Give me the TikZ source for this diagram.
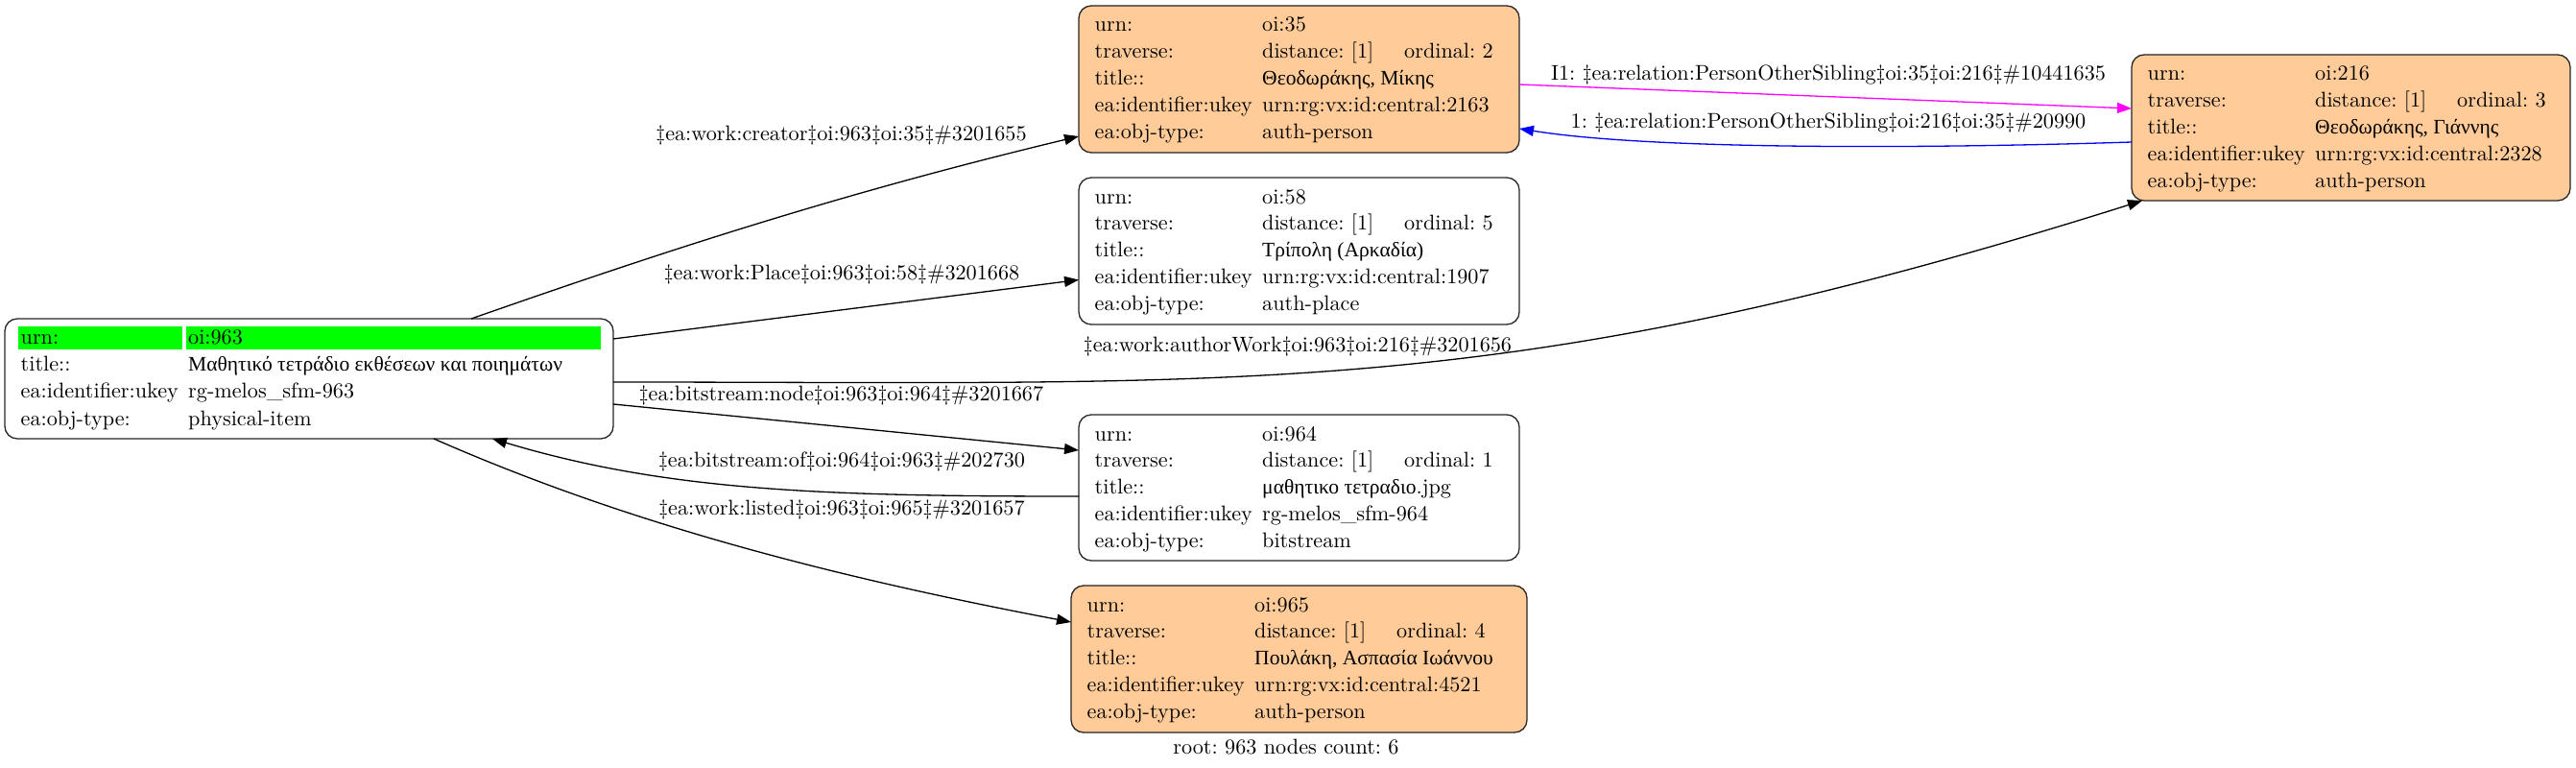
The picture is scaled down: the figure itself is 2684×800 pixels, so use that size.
\documentclass[tikz,border=0pt]{standalone}
\usepackage{fontspec}
\setmainfont{lmroman10-regular.otf}
\newfontfamily\grfont{Liberation Serif}[Scale=0.97]
\usetikzlibrary{arrows.meta,calc}
\definecolor{peach}{RGB}{255,204,153}
\definecolor{gv}{RGB}{0,255,0}
\definecolor{mag}{RGB}{255,0,255}
\definecolor{blu}{RGB}{0,0,255}
\newcommand\gr[1]{{\grfont #1}}
\newcommand\fs{\fontsize{22.2}{26}\selectfont\frenchspacing}
\tikzset{
  box/.style={draw=black!85, line width=1.3pt, rounded corners=13pt, anchor=north west, inner sep=0pt, outer sep=0pt},
  txt/.style={anchor=base west, inner sep=0pt, font=\fs},
  elbl/.style={anchor=base, inner sep=0pt, font=\fs},
  conn/.style={line width=1.3pt, -{Triangle[length=15pt,width=11pt]}},
}
\newcommand\gvbox[6]{\node[box, fill=#6, minimum width=#4pt, minimum height=#5pt] (#1) at (#2,#3) {};}
\newcommand\fiverows[8]{%
  \node[txt] (#1-a1) at ($(#2,#3)+(16.5,27)$) {urn:};
  \node[txt] (#1-b1) at ($(#2,#3)+(191,27)$) {#4};
  \node[txt] (#1-a2) at ($(#2,#3)+(16.5,54.75)$) {traverse:};
  \node[txt] (#1-b2) at ($(#2,#3)+(191,54.75)$) {distance: [1]};
  \node[txt] (#1-c2) at ($(#2,#3)+(339,54.75)$) {ordinal: #5};
  \node[txt] (#1-a3) at ($(#2,#3)+(16.5,82.5)$) {title::};
  \node[txt] (#1-b3) at ($(#2,#3)+(191,82.5)$) {#6};
  \node[txt] (#1-a4) at ($(#2,#3)+(16.5,110.25)$) {ea:identifier:ukey};
  \node[txt] (#1-b4) at ($(#2,#3)+(191,110.25)$) {#7};
  \node[txt] (#1-a5) at ($(#2,#3)+(16.5,138)$) {ea:obj-type:};
  \node[txt] (#1-b5) at ($(#2,#3)+(191,138)$) {#8};
}
\begin{document}
\begin{tikzpicture}[x=1pt, y=-1pt]
\useasboundingbox[fill=white] (0,0) rectangle (2684,800);

% root node 963
\gvbox{n963}{5}{332}{634}{125}{white}
\fill[gv] (19,340) rectangle (190,364);
\fill[gv] (194,340) rectangle (626,364);
\node[txt] (n963-a1) at (21.5,358) {urn:};
\node[txt] (n963-b1) at (196,358) {oi:963};
\node[txt] (n963-a2) at (21.5,386) {title::};
\node[txt] (n963-b2) at (196,386) {\gr{Μαθητικό τετράδιο εκθέσεων και ποιημάτων}};
\node[txt] (n963-a3) at (21.5,414) {ea:identifier:ukey};
\node[txt] (n963-b3) at (196,414) {rg-melos\_sfm-963};
\node[txt] (n963-a4) at (21.5,443) {ea:obj-type:};
\node[txt] (n963-b4) at (196,443) {physical-item};

% other nodes
\gvbox{n35}{1124}{6}{459}{153}{peach}
\fiverows{n35}{1124}{6}{oi:35}{2}{\gr{Θεοδωράκης, Μίκης}}{urn:rg:vx:id:central:2163}{auth-person}

\gvbox{n58}{1124}{185}{459}{153}{white}
\fiverows{n58}{1124}{185}{oi:58}{5}{\gr{Τρίπολη (Αρκαδία)}}{urn:rg:vx:id:central:1907}{auth-place}

\gvbox{n216}{2221}{57}{457}{152}{peach}
\fiverows{n216}{2221}{57}{oi:216}{3}{\gr{Θεοδωράκης, Γιάννης}}{urn:rg:vx:id:central:2328}{auth-person}

\gvbox{n964}{1124}{432}{459}{152}{white}
\fiverows{n964}{1124}{432}{oi:964}{1}{\gr{μαθητικο τετραδιο}.jpg}{rg-melos\_sfm-964}{bitstream}

\gvbox{n965}{1116}{610}{475}{153}{peach}
\fiverows{n965}{1116}{610}{oi:965}{4}{\gr{Πουλάκη, Ασπασία Ιωάννου}}{urn:rg:vx:id:central:4521}{auth-person}

% connectors
\draw[conn] ([xshift=169pt]n963.north) .. controls +(200,-70) and +(-250,60) .. ([yshift=-59.5pt]n35.west);
\draw[conn] ([yshift=41.5pt]n963.east) -- ([yshift=-30pt]n58.west);
\draw[conn] ([yshift=-3.5pt]n963.east) .. controls +(665,0) and +(-665,209.5) .. ([xshift=11pt]n216.south west);
\draw[conn] ([yshift=-26.5pt]n963.east) -- ([yshift=39pt]n964.west);
\draw[conn] ([yshift=-9pt]n964.west) .. controls +(-270,0) and +(180,54) .. ([xshift=191pt]n963.south);
\draw[conn] ([xshift=130pt]n963.south) .. controls +(200,88) and +(-250,-47.5) .. ([yshift=38.5pt]n965.west);
\draw[conn, mag] ([yshift=-5.5pt]n35.east) -- ([yshift=20pt]n216.west);
\draw[conn, blu] ([yshift=-15pt]n216.west) .. controls +(-220,7) and +(137,22) .. ([yshift=-51.5pt]n35.east);

% edge labels
\node[elbl] (l-creator) at (876.5,146) {‡ea:work:creator‡oi:963‡oi:35‡\#3201655};
\node[elbl] (l-place) at (877,291) {‡ea:work:Place‡oi:963‡oi:58‡\#3201668};
\node[elbl] (l-author) at (1352,366) {‡ea:work:authorWork‡oi:963‡oi:216‡\#3201656};
\node[elbl] (l-bsnode) at (876.5,417) {‡ea:bitstream:node‡oi:963‡oi:964‡\#3201667};
\node[elbl] (l-bsof) at (877,486) {‡ea:bitstream:of‡oi:964‡oi:963‡\#202730};
\node[elbl] (l-listed) at (877,536) {‡ea:work:listed‡oi:963‡oi:965‡\#3201657};
\node[elbl] (l-sib1) at (1905,84) {I1: ‡ea:relation:PersonOtherSibling‡oi:35‡oi:216‡\#10441635};
\node[elbl] (l-sib2) at (1905,133) {1: ‡ea:relation:PersonOtherSibling‡oi:216‡oi:35‡\#20990};

\node[elbl] (footer) at (1340,785) {root: 963 nodes count: 6};
\end{tikzpicture}
\end{document}
